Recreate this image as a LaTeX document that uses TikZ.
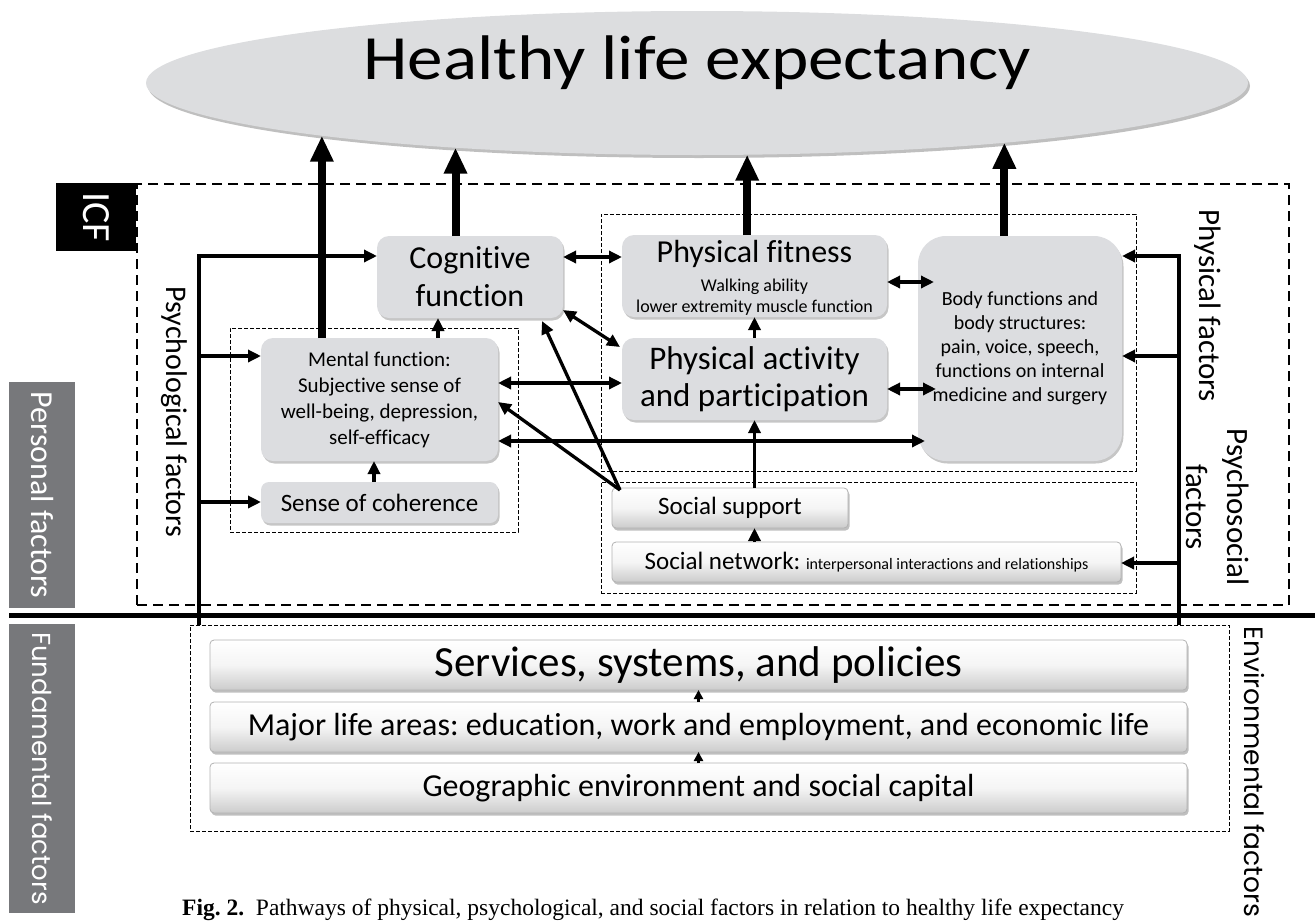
\documentclass[tikz,border=0pt]{standalone}
\usepackage{graphicx}
\usepackage{fontspec}
\setmainfont{Carlito}[Ligatures=NoCommon]
\newfontfamily\popfont{Poppins}
\newfontfamily\capfont{Liberation Serif}
\usetikzlibrary{arrows.meta,shadows,calc,shapes.geometric}
\definecolor{boxgray}{HTML}{DCDDE0}
\definecolor{labgray}{HTML}{77787B}
\definecolor{ellgray}{HTML}{DCDDDF}
\newcommand{\myfs}[2]{\fontsize{#1pt}{#2pt}\selectfont}
\frenchspacing
\begin{document}
\begin{tikzpicture}[x=1pt,y=-1pt,
  rbox/.style={fill=boxgray, rounded corners=12pt, inner sep=0pt, outer sep=0pt, align=center,
     drop shadow={shadow xshift=1.5pt, shadow yshift=-2.5pt, opacity=0.45}},
  bbox/.style={draw=gray!60, line width=0.8pt, rounded corners=4pt, top color=white, bottom color=gray!40, middle color=gray!8,
     inner sep=0pt, outer sep=0pt, drop shadow={shadow xshift=1.5pt, shadow yshift=-2.5pt, opacity=0.5}},
  dbox/.style={draw, dash pattern=on 4pt off 2pt, line width=0.9pt, inner sep=0pt},
  arr/.style={line width=3.3pt, -{Triangle[length=13pt,width=12pt]}},
  darr/.style={line width=3.3pt, {Triangle[length=13pt,width=12pt]}-{Triangle[length=13pt,width=12pt]}},
  bigarr/.style={line width=8pt, -{Triangle[length=26pt,width=22pt]}},
  sarr/.style={line width=2.5pt, -{Triangle[length=9pt,width=9pt]}},
  vlab/.style={rotate=-90, inner sep=0pt, align=center},
  txt/.style={inner sep=0pt, align=center}
]
\useasboundingbox (0,0) rectangle (1315,921);

% ellipse
\node[ellipse, fill=ellgray, minimum width=1102pt, minimum height=144pt, inner sep=0pt, outer sep=0pt,
  drop shadow={shadow xshift=2pt, shadow yshift=-3pt, opacity=0.5}] (hle) at (697,83) {};
\node[txt, anchor=base, font=\myfs{63}{63}] (hlet) at (697,79) {\scalebox{1.13}[1]{Healthy life expectancy}};

% dashed frames
\node[draw, dash pattern=on 10pt off 6pt, line width=2.2pt, minimum width=1152pt, minimum height=421pt, inner sep=0pt] (icfframe) at (713,394.5) {};
\node[dbox, minimum width=288pt, minimum height=204pt] (psyframe) at (374,430) {};
\node[dbox, minimum width=535pt, minimum height=257pt] (phyframe) at (868.5,342.5) {};
\node[dbox, minimum width=535pt, minimum height=111pt] (socframe) at (868.5,537.5) {};
\node[dbox, minimum width=1039pt, minimum height=206pt] (env) at (709.5,728) {};

% separator
\coordinate (sepL) at (9,615);
\coordinate (sepR) at (1315,615);
\draw[line width=5pt] (sepL) -- (sepR);

% side labels
\node[vlab, fill=black, text=white, minimum width=68pt, minimum height=80pt, font=\myfs{40}{40}] (icf) at (96,217) {ICF};
\node[vlab, fill=labgray, text=white, minimum width=226pt, minimum height=66pt, font=\myfs{32}{32}] (personal) at (42,495) {Personal factors};
\node[vlab, fill=labgray, text=white, minimum width=289pt, minimum height=66pt, font=\popfont\myfs{26}{26}] (fundamental) at (42,768.5) {Fundamental factors};
\node[vlab, font=\myfs{30}{30}] (psylab) at (174,412) {Psychological factors};
\node[vlab, font=\myfs{31}{31}] (phylab) at (1208,306) {Physical factors};
\node[vlab, font=\myfs{31}{41}] (psslab) at (1218,507) {Psychosocial\\factors};
\node[vlab, font=\popfont\myfs{26.5}{26.5}] (envlab) at (1254,772) {Environmental factors};

% main boxes
\node[rbox, minimum width=186pt, minimum height=82pt, font=\myfs{32}{38}] (cog) at (470,277) {Cognitive\\function};
\node[rbox, minimum width=237pt, minimum height=123pt, font=\myfs{21}{26}] (mental) at (379.5,399.5) {Mental function:\\Subjective sense of\\well-being, depression,\\self-efficacy};
\node[rbox, rounded corners=8pt, minimum width=237pt, minimum height=41pt, font=\myfs{25}{25}] (sense) at (379.5,502.5) {Sense of coherence};
\node[rbox, minimum width=265pt, minimum height=82pt] (fit) at (754.5,276) {};
\node[txt, font=\myfs{32}{32}] (fitT) at (754.5,254) {Physical fitness};
\node[txt, font=\myfs{18}{21}] (fitS) at (754.5,297) {Walking ability\\lower extremity muscle function};
\node[rbox, minimum width=265pt, minimum height=82pt, font=\myfs{33}{37}] (act) at (754.5,379) {Physical activity\\and participation};
\node[rbox, rounded corners=28pt, minimum width=204pt, minimum height=225pt, font=\myfs{20}{24}] (body) at (1020,348.5) {Body functions and\\body structures:\\pain, voice, speech,\\functions on internal\\medicine and surgery};
\node[bbox, minimum width=236pt, minimum height=40pt, font=\myfs{25}{25}] (ss) at (730,508) {Social support};
\node[bbox, minimum width=509pt, minimum height=40pt, font=\myfs{25}{25}] (net) at (866.5,562) {Social network: {\myfs{16}{16}interpersonal interactions and relationships}};
\node[bbox, minimum width=977pt, minimum height=50pt, font=\myfs{43}{43}] (serv) at (698.5,665) {Services, systems, and policies};
\node[bbox, minimum width=977pt, minimum height=50pt, font=\myfs{32}{32}] (major) at (698.5,727) {Major life areas: education, work and employment, and economic life};
\node[bbox, minimum width=977pt, minimum height=50pt, font=\myfs{32}{32}] (geo) at (698.5,788) {Geographic environment and social capital};

% caption
\node[anchor=base west, inner sep=0pt, font=\capfont\myfs{23.5}{23.5}] (cap) at (182,915.5) {\textbf{Fig. 2.}\ \ Pathways of physical, psychological, and social factors in relation to healthy life expectancy};

% big arrows to ellipse
\draw[bigarr] (hle.188.12 |- mental.north) -- (hle.188.12);
\draw[bigarr] (hle.195.96 |- cog.north) -- (hle.195.96);
\draw[bigarr] (hle.305.95 |- fit.north) -- (hle.305.95);
\draw[bigarr] (hle.349.24 |- body.north) -- (hle.349.24);

% left feed line
\coordinate (lvt) at (199,256);
\coordinate (lb1) at (199,356);
\coordinate (lb2) at (199,502);
\draw[arr] (lvt |- env.north) -- (lvt) -- (lvt -| cog.west);
\draw[arr] (lb1) -- (lb1 -| mental.west);
\draw[arr] (lb2) -- (lb2 -| sense.west);

% right feed line
\coordinate (rvt) at (1179,256);
\coordinate (rb1) at (1179,356);
\coordinate (rb2) at (1179,563);
\draw[arr] (rvt |- env.north) -- (rvt) -- (rvt -| body.east);
\draw[arr] (rb1) -- (rb1 -| body.east);
\draw[arr] (rb2) -- (rb2 -| net.east);

% internal connectors
\coordinate (m2c) at ($(mental.north)+(58.5,0)$);
\draw[arr] (m2c) -- (m2c |- cog.south);
\coordinate (s2m) at ($(sense.north)+(-5.5,0)$);
\draw[arr] (s2m) -- (s2m |- mental.south);
\draw[darr] ($(cog.east)+(0,-20)$) -- ($(fit.west)+(0,-19)$);
\draw[darr] ($(cog.south east)+(0,-8)$) -- ($(act.north west)+(-2,9)$);
\draw[darr] ($(mental.east)+(0,-16.5)$) -- ($(act.west)+(0,4)$);
\draw[darr] ($(mental.east)+(0,41.5)$) -- ($(body.west)+(7,92.5)$);
\coordinate (ssc) at ($(ss.north west)+(8,2)$);
\draw[arr] (ssc) -- ($(mental.east)+(0,2.5)$);
\draw[arr] (ssc) -- ($(cog.south east)+(-21,3)$);
\draw[darr] ($(fit.east)+(0,6)$) -- ($(body.west)+(16,-66.5)$);
\draw[darr] ($(act.east)+(0,10)$) -- ($(body.west)+(18,40.5)$);
\draw[arr] (act.north) -- (fit.south);
\coordinate (s2a) at ($(ss.north)+(24.5,0)$);
\draw[arr] (s2a) -- (s2a |- act.south);
\coordinate (n2s) at (s2a |- net.north);
\draw[arr] (n2s) -- (n2s |- ss.south);
\draw[sarr] (major.north) -- (serv.south);
\draw[sarr] (geo.north) -- (major.south);
\end{tikzpicture}
\end{document}
